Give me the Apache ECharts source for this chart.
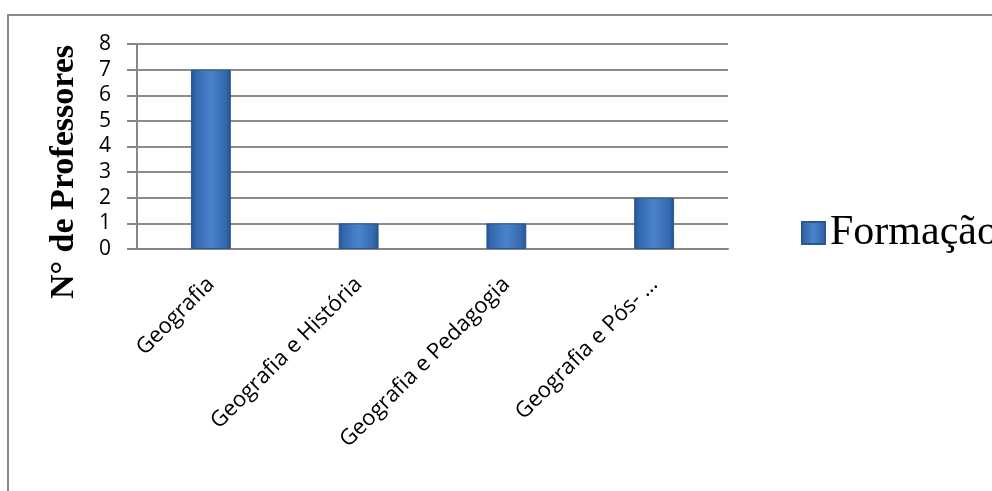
<!DOCTYPE html>
<html>
<head>
<meta charset="utf-8">
<script src="https://cdn.jsdelivr.net/npm/echarts@6/dist/echarts.min.js"></script>
<style>html,body{margin:0;padding:0;background:#fff}#c{width:992px;height:491px}</style>
</head>
<body>
<div id="c"></div>
<script>
const categories = ['Geografia', 'Geografia e História', 'Geografia e Pedagogia', 'Geografia e Pós- …'];
const values = [7, 1, 1, 2];
const seriesName = 'Formação';
const yTicks = [0, 8, 1];

const chart = echarts.init(document.getElementById('c'), null, {renderer: 'canvas'});
const barColor = new echarts.graphic.LinearGradient(0, 0, 1, 0, [
  {offset: 0, color: '#24528f'},
  {offset: 0.12, color: '#3468ad'},
  {offset: 0.5, color: '#4b83cb'},
  {offset: 0.88, color: '#3468ad'},
  {offset: 1, color: '#24528f'}
]);
chart.setOption({
  animation: false,
  backgroundColor: '#fff',
  grid: {left: 137, right: 992 - 728, top: 44, bottom: 491 - 249, containLabel: false},
  legend: {
    data: [{name: seriesName, icon: 'rect'}],
    left: 796, top: 207,
    itemWidth: 23, itemHeight: 22, itemGap: 11,
    textStyle: {fontFamily: 'Liberation Serif', fontSize: 42, color: '#000', padding: [0,0,0,0]}
  },
  xAxis: {
    type: 'category', data: categories,
    axisLine: {lineStyle: {color: '#868686', width: 2}},
    axisTick: {show: false},
    axisLabel: {rotate: 45, margin: 32, fontFamily: 'Open Sans', fontSize: 22, color: '#000', interval: 0}
  },
  yAxis: {
    type: 'value', min: yTicks[0], max: yTicks[1], interval: yTicks[2],
    axisLine: {show: true, lineStyle: {color: '#868686', width: 2}},
    axisTick: {show: true, length: 10, lineStyle: {color: '#868686', width: 2}},
    splitLine: {lineStyle: {color: '#8c8c8c', width: 2}},
    axisLabel: {margin: 26, fontFamily: 'Open Sans', fontSize: 21, color: '#000'}
  },
  graphic: [
    {type: 'rect', shape: {x: 8, y: 15, width: 1100, height: 600}, style: {fill: 'none', stroke: '#8a8a8a', lineWidth: 2}, silent: true, z: -10},
    {type: 'text', x: 64, y: 172, rotation: Math.PI / 2,
     style: {text: 'N° de Professores', font: 'bold 34px "Liberation Serif"', fill: '#000', textAlign: 'center', textVerticalAlign: 'middle'}}
  ],
  series: [{
    name: seriesName, type: 'bar', data: values, barWidth: '27%',
    itemStyle: {color: barColor, borderColor: '#2a5792', borderWidth: 1}
  }]
});
</script>
</body>
</html>
